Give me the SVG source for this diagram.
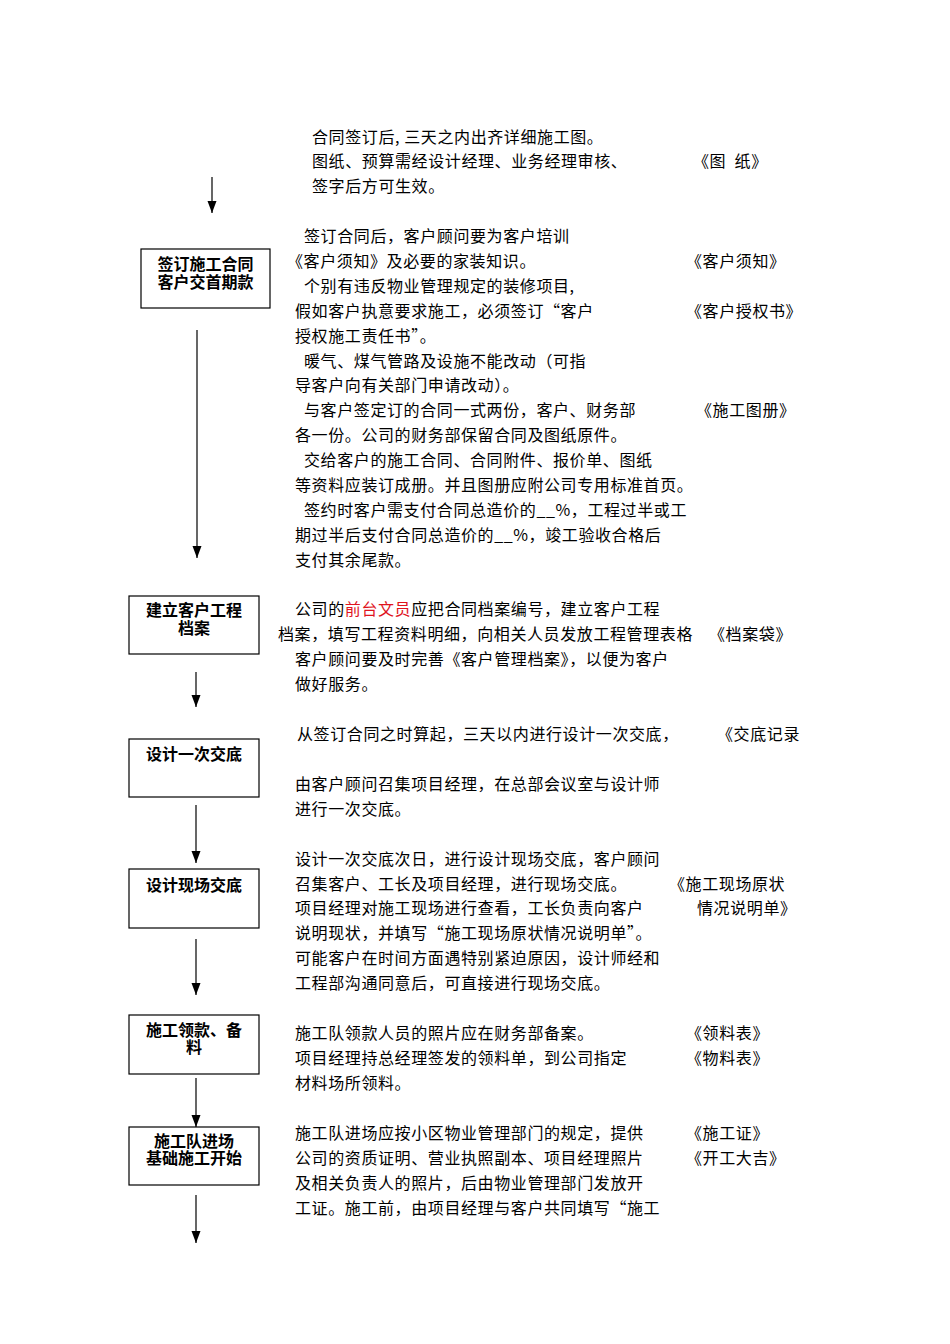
<svg xmlns="http://www.w3.org/2000/svg" width="950" height="1344" viewBox="0 0 950 1344">
<defs>
<style>
.t{font-family:"Noto Sans CJK SC","Liberation Sans",sans-serif;font-size:16px;letter-spacing:0.6px;fill:#000}
.b{font-family:"Noto Sans CJK SC","Liberation Sans",sans-serif;font-size:16px;font-weight:bold;fill:#000;text-anchor:middle}
.box{fill:#fff;stroke:#000;stroke-width:1.2}
.ln{stroke:#000;stroke-width:1.2;fill:none}
.red{fill:#e0141e}
</style>
</defs>
<rect width="950" height="1344" fill="#fff"/>

<g id="connectors">
<line class="ln" x1="212" y1="177" x2="212" y2="213"/><path d="M207.5,201 L216.5,201 L212,213 Z"/>
<line class="ln" x1="197" y1="330" x2="197" y2="558"/><path d="M192.5,546 L201.5,546 L197,558 Z"/>
<line class="ln" x1="196" y1="672" x2="196" y2="707"/><path d="M191.5,695 L200.5,695 L196,707 Z"/>
<line class="ln" x1="196" y1="805" x2="196" y2="863"/><path d="M191.5,851 L200.5,851 L196,863 Z"/>
<line class="ln" x1="196" y1="939" x2="196" y2="995"/><path d="M191.5,983 L200.5,983 L196,995 Z"/>
<line class="ln" x1="196" y1="1078" x2="196" y2="1127"/><path d="M191.5,1115 L200.5,1115 L196,1127 Z"/>
<line class="ln" x1="196" y1="1195" x2="196" y2="1243"/><path d="M191.5,1231 L200.5,1231 L196,1243 Z"/>
</g>

<g id="node-sign">
<rect class="box" x="141" y="249" width="129" height="59"/>
<text class="b"><tspan x="205.5" y="270">签订施工合同</tspan><tspan x="205.5" y="288">客户交首期款</tspan></text>
</g>
<g id="node-archive">
<rect class="box" x="129" y="596" width="130" height="58"/>
<text class="b"><tspan x="194" y="616">建立客户工程</tspan><tspan x="194" y="634">档案</tspan></text>
</g>
<g id="node-design1">
<rect class="box" x="129" y="739" width="130" height="58"/>
<text class="b" x="194" y="760">设计一次交底</text>
</g>
<g id="node-site">
<rect class="box" x="129" y="869" width="130" height="59"/>
<text class="b" x="194" y="891">设计现场交底</text>
</g>
<g id="node-material">
<rect class="box" x="129" y="1015" width="130" height="59"/>
<text class="b"><tspan x="194" y="1036">施工领款、备</tspan><tspan x="194" y="1053">料</tspan></text>
</g>
<g id="node-start">
<rect class="box" x="129" y="1127" width="130" height="58"/>
<text class="b"><tspan x="194" y="1147">施工队进场</tspan><tspan x="194" y="1164">基础施工开始</tspan></text>
</g>

<g id="text-1">
<text class="t" x="312" y="143">合同签订后, 三天之内出齐详细施工图。</text>
<text class="t" x="312" y="167">图纸、预算需经设计经理、业务经理审核、</text>
<text class="t" x="312" y="192">签字后方可生效。</text>
<text class="t" x="693" y="167" xml:space="preserve">《图  纸》</text>
</g>

<g id="text-2">
<text class="t" x="304" y="242">签订合同后，客户顾问要为客户培训</text>
<text class="t" x="287" y="267">《客户须知》及必要的家装知识。</text>
<text class="t" x="304" y="292">个别有违反物业管理规定的装修项目,</text>
<text class="t" x="295" y="317">假如客户执意要求施工，必须签订“客户</text>
<text class="t" x="295" y="342">授权施工责任书”。</text>
<text class="t" x="304" y="367">暖气、煤气管路及设施不能改动（可指</text>
<text class="t" x="295" y="391">导客户向有关部门申请改动）。</text>
<text class="t" x="304" y="416">与客户签定订的合同一式两份，客户、财务部</text>
<text class="t" x="295" y="441">各一份。公司的财务部保留合同及图纸原件。</text>
<text class="t" x="304" y="466">交给客户的施工合同、合同附件、报价单、图纸</text>
<text class="t" x="295" y="491">等资料应装订成册。并且图册应附公司专用标准首页。</text>
<text class="t" x="304" y="516">签约时客户需支付合同总造价的__%，工程过半或工</text>
<text class="t" x="295" y="541">期过半后支付合同总造价的__%，竣工验收合格后</text>
<text class="t" x="295" y="566">支付其余尾款。</text>
<text class="t" x="686" y="267">《客户须知》</text>
<text class="t" x="686" y="317">《客户授权书》</text>
<text class="t" x="696" y="416">《施工图册》</text>
</g>

<g id="text-3">
<text class="t" x="295" y="615">公司的<tspan class="red">前台文员</tspan>应把合同档案编号，建立客户工程</text>
<text class="t" x="278" y="640">档案，填写工程资料明细，向相关人员发放工程管理表格</text>
<text class="t" x="295" y="665">客户顾问要及时完善《客户管理档案》，以便为客户</text>
<text class="t" x="295" y="690">做好服务。</text>
<text class="t" x="709" y="640">《档案袋》</text>
</g>

<g id="text-4">
<text class="t" x="297" y="740">从签订合同之时算起，三天以内进行设计一次交底，</text>
<text class="t" x="295" y="790">由客户顾问召集项目经理，在总部会议室与设计师</text>
<text class="t" x="295" y="815">进行一次交底。</text>
<text class="t" x="717" y="740">《交底记录</text>
</g>

<g id="text-5">
<text class="t" x="295" y="865">设计一次交底次日，进行设计现场交底，客户顾问</text>
<text class="t" x="295" y="890">召集客户、工长及项目经理，进行现场交底。</text>
<text class="t" x="295" y="914">项目经理对施工现场进行查看，工长负责向客户</text>
<text class="t" x="295" y="939">说明现状，并填写“施工现场原状情况说明单”。</text>
<text class="t" x="295" y="964">可能客户在时间方面遇特别紧迫原因，设计师经和</text>
<text class="t" x="295" y="989">工程部沟通同意后，可直接进行现场交底。</text>
<text class="t" x="669" y="890">《施工现场原状</text>
<text class="t" x="697" y="914">情况说明单》</text>
</g>

<g id="text-6">
<text class="t" x="295" y="1039">施工队领款人员的照片应在财务部备案。</text>
<text class="t" x="295" y="1064">项目经理持总经理签发的领料单，到公司指定</text>
<text class="t" x="295" y="1089">材料场所领料。</text>
<text class="t" x="686" y="1039">《领料表》</text>
<text class="t" x="686" y="1064">《物料表》</text>
</g>

<g id="text-7">
<text class="t" x="295" y="1139">施工队进场应按小区物业管理部门的规定，提供</text>
<text class="t" x="295" y="1164">公司的资质证明、营业执照副本、项目经理照片</text>
<text class="t" x="295" y="1189">及相关负责人的照片，后由物业管理部门发放开</text>
<text class="t" x="295" y="1214">工证。施工前，由项目经理与客户共同填写“施工</text>
<text class="t" x="686" y="1139">《施工证》</text>
<text class="t" x="686" y="1164">《开工大吉》</text>
</g>
</svg>
